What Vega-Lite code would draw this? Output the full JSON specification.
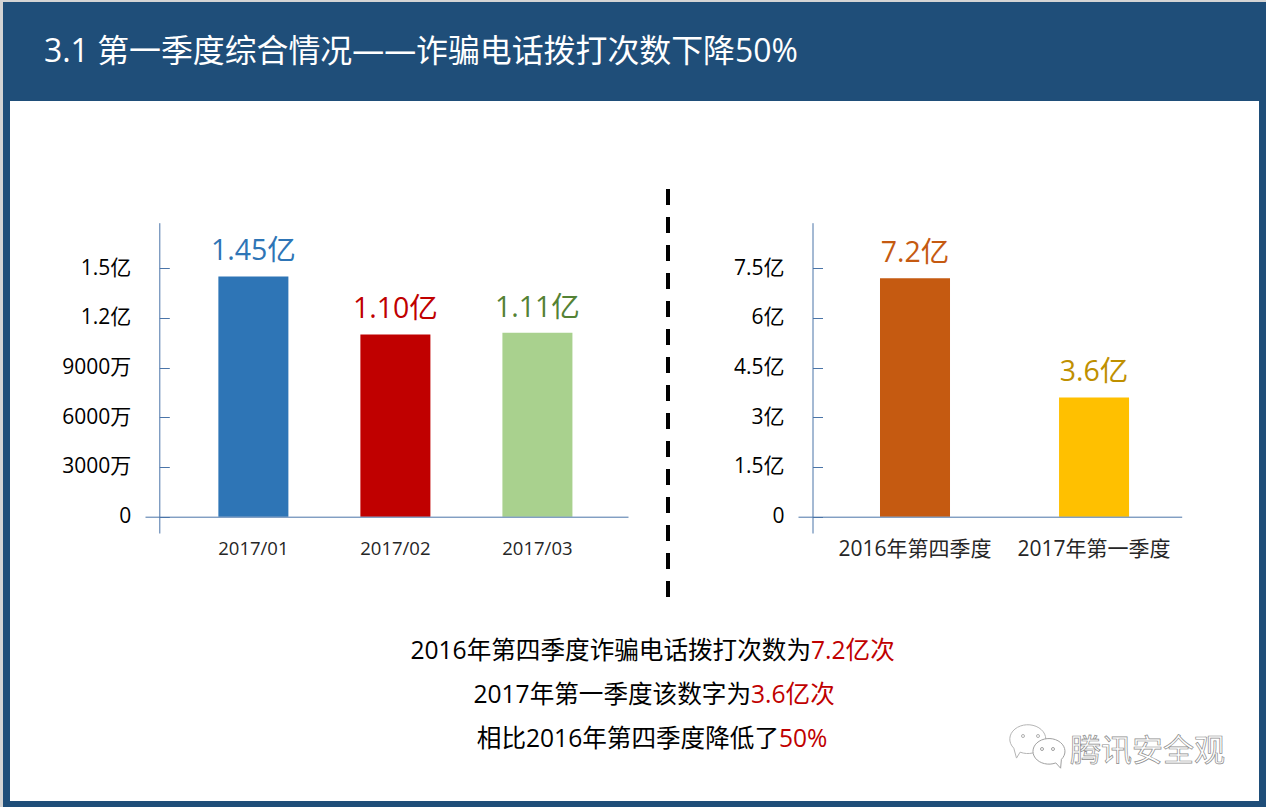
{
"$schema":"https://vega.github.io/schema/vega-lite/v6.json",
"width":1266,"height":807,"padding":0,"autosize":{"type":"none"},
"background":"#d4d4d4",
"config":{"view":{"stroke":null},"font":"Open Sans, Noto Sans CJK SC","text":{"font":"Open Sans, Noto Sans CJK SC"},"axis":{"labelFont":"Open Sans, Noto Sans CJK SC","grid":false,"title":null}},
"datasets":{
 "months":[{"period":"2017/01","calls":145000000,"label":"1.45亿"},{"period":"2017/02","calls":110000000,"label":"1.10亿"},{"period":"2017/03","calls":111000000,"label":"1.11亿"}],
 "quarters":[{"period":"2016年第四季度","calls":720000000,"label":"7.2亿"},{"period":"2017年第一季度","calls":360000000,"label":"3.6亿"}]
},
"resolve":{"scale":{"x":"independent","y":"independent","color":"independent"},"axis":{"x":"independent","y":"independent"}},
"layer":[
{
 "data":{"values":[{"part":"page"}]},
 "encoding":{
  "x":{"type":"quantitative","scale":{"domain":[0,1266],"range":[0,1266]},"axis":null},
  "y":{"type":"quantitative","scale":{"domain":[0,807],"range":[0,807]},"axis":null}
 },
 "layer":[
  {"mark":{"type":"rect","color":"#1f4e79"},"encoding":{"x":{"datum":3,"type":"quantitative"},"x2":{"datum":1266},"y":{"datum":2,"type":"quantitative"},"y2":{"datum":807}}},
  {"mark":{"type":"rect","color":"#ffffff"},"encoding":{"x":{"datum":10,"type":"quantitative"},"x2":{"datum":1259},"y":{"datum":101,"type":"quantitative"},"y2":{"datum":801}}},
  {"data":{"values":[{"t":"3.1 第一季度综合情况——诈骗电话拨打次数下降50%"}]},"mark":{"type":"text","color":"#ffffff","fontSize":31.9,"align":"left","baseline":"middle"},"encoding":{"x":{"datum":44,"type":"quantitative"},"y":{"datum":52,"type":"quantitative"},"text":{"field":"t"}}},
  {"mark":{"type":"rule","color":"#000000","strokeWidth":4,"strokeDash":[16,12]},"encoding":{"x":{"datum":668,"type":"quantitative"},"y":{"datum":189,"type":"quantitative"},"y2":{"datum":597}}},
  {"data":{"values":[{"t":"2016年第四季度诈骗电话拨打次数为"}]},"mark":{"type":"text","color":"#000000","fontSize":24.6,"align":"right","baseline":"middle"},"encoding":{"x":{"datum":811,"type":"quantitative"},"y":{"datum":652,"type":"quantitative"},"text":{"field":"t"}}},
  {"data":{"values":[{"t":"7.2亿次"}]},"mark":{"type":"text","color":"#c00000","fontSize":24.6,"align":"left","baseline":"middle"},"encoding":{"x":{"datum":811,"type":"quantitative"},"y":{"datum":652,"type":"quantitative"},"text":{"field":"t"}}},
  {"data":{"values":[{"t":"2017年第一季度该数字为"}]},"mark":{"type":"text","color":"#000000","fontSize":24.6,"align":"right","baseline":"middle"},"encoding":{"x":{"datum":751,"type":"quantitative"},"y":{"datum":696,"type":"quantitative"},"text":{"field":"t"}}},
  {"data":{"values":[{"t":"3.6亿次"}]},"mark":{"type":"text","color":"#c00000","fontSize":24.6,"align":"left","baseline":"middle"},"encoding":{"x":{"datum":751,"type":"quantitative"},"y":{"datum":696,"type":"quantitative"},"text":{"field":"t"}}},
  {"data":{"values":[{"t":"相比2016年第四季度降低了"}]},"mark":{"type":"text","color":"#000000","fontSize":24.6,"align":"right","baseline":"middle"},"encoding":{"x":{"datum":779,"type":"quantitative"},"y":{"datum":740,"type":"quantitative"},"text":{"field":"t"}}},
  {"data":{"values":[{"t":"50%"}]},"mark":{"type":"text","color":"#c00000","fontSize":24.6,"align":"left","baseline":"middle"},"encoding":{"x":{"datum":779,"type":"quantitative"},"y":{"datum":740,"type":"quantitative"},"text":{"field":"t"}}},
  {"data":{"values":[{"t":"腾讯安全观"}]},"mark":{"type":"text","color":"#ffffff","stroke":"#8c8c8c","strokeWidth":0.7,"fontSize":31,"align":"left","baseline":"middle"},"encoding":{"x":{"datum":1070,"type":"quantitative"},"y":{"datum":752,"type":"quantitative"},"text":{"field":"t"}}},
  {"mark":{"type":"point","filled":false,"opacity":1,"color":"#b5b5b5","strokeWidth":1,"size":1296,"shape":"M-0.9,0.4 A1,0.8 0 1 1 -0.55,0.62 L-0.75,0.95 Z"},"encoding":{"x":{"datum":1030,"type":"quantitative"},"y":{"datum":741,"type":"quantitative"}}},
  {"mark":{"type":"point","filled":true,"opacity":1,"color":"#ffffff","stroke":"#a0a0a0","strokeWidth":1,"size":1024,"shape":"M0.9,0.4 A1,0.8 0 1 0 0.55,0.62 L0.85,0.95 Z"},"encoding":{"x":{"datum":1047,"type":"quantitative"},"y":{"datum":753,"type":"quantitative"}}},
  {"mark":{"type":"point","filled":false,"opacity":1,"color":"#b0b0b0","strokeWidth":1,"size":9},"encoding":{"x":{"datum":1023,"type":"quantitative"},"y":{"datum":736,"type":"quantitative"}}},
  {"mark":{"type":"point","filled":false,"opacity":1,"color":"#b0b0b0","strokeWidth":1,"size":9},"encoding":{"x":{"datum":1038,"type":"quantitative"},"y":{"datum":736,"type":"quantitative"}}},
  {"mark":{"type":"point","filled":false,"opacity":1,"color":"#a0a0a0","strokeWidth":1,"size":9},"encoding":{"x":{"datum":1042,"type":"quantitative"},"y":{"datum":749,"type":"quantitative"}}},
  {"mark":{"type":"point","filled":false,"opacity":1,"color":"#a0a0a0","strokeWidth":1,"size":9},"encoding":{"x":{"datum":1053,"type":"quantitative"},"y":{"datum":749,"type":"quantitative"}}}
 ]
},
{
 "data":{"name":"months"},
 "resolve":{"scale":{"color":"independent"}},
 "encoding":{
  "x":{"field":"period","type":"nominal","sort":null,"scale":{"type":"band","range":[145,628],"paddingInner":0.507,"paddingOuter":0.454,"align":0.569},
   "axis":{"orient":"bottom","zindex":1,"offset":-290.3,"labelAngle":0,"ticks":false,"domainColor":"#4a74a8","labelColor":"#262626","labelFontSize":18.5,"labelPadding":23}},
  "y":{"field":"calls","type":"quantitative","scale":{"domain":[-9840000,177460000],"range":[533,222.7],"nice":false,"zero":false},
   "axis":{"orient":"left","zindex":1,"offset":-159.3,"values":[0,30000000,60000000,90000000,120000000,150000000],"labelExpr":"datum.value==0?'0':(datum.value>=100000000?(datum.value/100000000)+'亿':(datum.value/10000)+'万')","domainColor":"#4a74a8","tickColor":"#4a74a8","tickSize":-10,"labelColor":"#000000","labelFontSize":21,"labelPadding":38.5}}
 },
 "layer":[
  {"mark":{"type":"bar"},"encoding":{"color":{"field":"period","type":"nominal","legend":null,"scale":{"domain":["2017/01","2017/02","2017/03"],"range":["#2e75b6","#c00000","#a9d18e"]}}}},
  {"mark":{"type":"text","fontSize":28.5,"dy":-25,"baseline":"middle"},"encoding":{"text":{"field":"label"},"color":{"field":"period","type":"nominal","legend":null,"scale":{"domain":["2017/01","2017/02","2017/03"],"range":["#2e75b6","#c00000","#548235"]}}}}
 ]
},
{
 "data":{"name":"quarters"},
 "resolve":{"scale":{"color":"independent"}},
 "encoding":{
  "x":{"field":"period","type":"nominal","sort":null,"scale":{"type":"band","range":[798,1181.7],"paddingInner":0.609,"paddingOuter":0.376,"align":0.609},
   "axis":{"orient":"bottom","zindex":1,"offset":-290.3,"labelAngle":0,"ticks":false,"domainColor":"#4a74a8","labelColor":"#262626","labelFontSize":21,"labelPadding":22}},
  "y":{"field":"calls","type":"quantitative","scale":{"domain":[-49200000,887300000],"range":[533,222.7],"nice":false,"zero":false},
   "axis":{"orient":"left","zindex":1,"offset":-812.5,"values":[0,150000000,300000000,450000000,600000000,750000000],"labelExpr":"datum.value==0?'0':(datum.value/100000000)+'亿'","domainColor":"#4a74a8","tickColor":"#4a74a8","tickSize":-10,"labelColor":"#000000","labelFontSize":21,"labelPadding":38.5}}
 },
 "layer":[
  {"mark":{"type":"bar"},"encoding":{"color":{"field":"period","type":"nominal","legend":null,"scale":{"domain":["2016年第四季度","2017年第一季度"],"range":["#c55a11","#ffc000"]}}}},
  {"mark":{"type":"text","fontSize":28.5,"dy":-25,"baseline":"middle"},"encoding":{"text":{"field":"label"},"color":{"field":"period","type":"nominal","legend":null,"scale":{"domain":["2016年第四季度","2017年第一季度"],"range":["#c55a11","#bf9000"]}}}}
 ]
}
]
}
